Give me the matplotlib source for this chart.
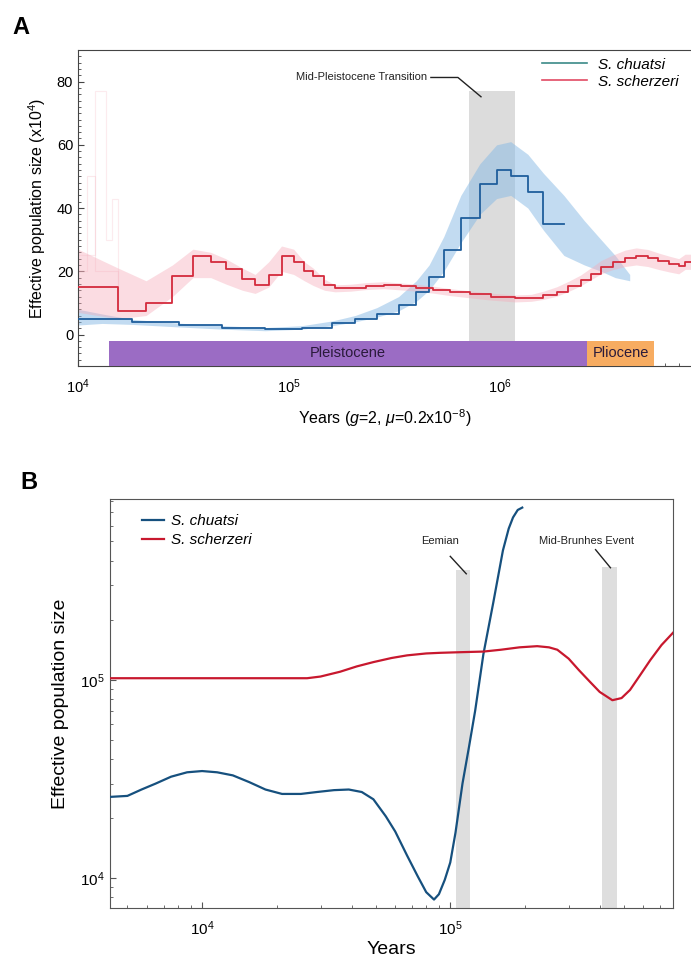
import matplotlib
matplotlib.use("Agg")
import matplotlib.pyplot as plt
import numpy as np
from matplotlib.lines import Line2D
from matplotlib.ticker import LogLocator, MultipleLocator, NullFormatter

plt.rcParams['font.family'] = ['Liberation Sans', 'DejaVu Sans']
plt.rcParams['mathtext.fontset'] = 'custom'
plt.rcParams['mathtext.rm'] = 'Liberation Sans'
plt.rcParams['mathtext.it'] = 'Liberation Sans:italic'

# ---- panel A: PSMC (years, Ne x10^4) ----
chu_t = [1e4, 1.8e4, 3e4, 4.8e4, 7.7e4, 1.15e5, 1.6e5, 2.05e5, 2.6e5, 3.3e5,
         4e5, 4.6e5, 5.4e5, 6.5e5, 8e5, 9.6e5, 1.12e6, 1.35e6, 1.6e6, 2.0e6]
chu_ne = [4.8, 3.9, 2.9, 2.2, 1.6, 2.2, 3.5, 4.8, 6.6, 9.2,
          13.4, 18.2, 26.7, 37, 47.6, 52, 50, 45, 35, 35]

chu_band_t = [1e4, 1.3e4, 1.8e4, 3e4, 4.8e4, 7.7e4, 1.15e5, 1.6e5, 2.05e5, 2.6e5, 3.3e5,
              4e5, 4.6e5, 5.4e5, 6.5e5, 8e5, 9.6e5, 1.12e6, 1.35e6, 1.6e6, 2.0e6,
              2.5e6, 3.0e6, 3.5e6, 4.1e6]
chu_band_lo = [3, 3.5, 3.2, 2.4, 1.7, 1.2, 1.7, 2.8, 4.0, 5.5, 7.5,
               10.5, 14, 20, 29, 38, 43, 44, 40, 33, 25, 22, 20, 18, 17]
chu_band_hi = [8, 6.5, 4.8, 3.6, 2.8, 2.2, 2.8, 4.3, 6.0, 8.5, 12,
               17, 22, 31, 44, 54, 60, 61, 57, 51, 44, 36, 30, 25, 19]

sch_t = [1e4, 1.55e4, 2.1e4, 2.8e4, 3.5e4, 4.25e4, 5.0e4, 6.0e4, 6.9e4, 8.0e4,
         9.2e4, 1.05e5, 1.18e5, 1.3e5, 1.47e5, 1.65e5, 1.95e5, 2.3e5, 2.8e5, 3.4e5,
         4.0e5, 4.8e5, 5.8e5, 7.2e5, 9e5, 1.17e6, 1.4e6, 1.6e6, 1.85e6, 2.1e6,
         2.4e6, 2.7e6, 3.0e6, 3.4e6, 3.9e6, 4.4e6, 5.0e6, 5.6e6, 6.3e6, 7.0e6,
         7.5e6, 8e6]
sch_ne = [15, 7.4, 10.1, 18.4, 24.7, 22.9, 20.6, 17.5, 15.6, 18.7,
          24.7, 22.9, 20.0, 18.4, 15.8, 14.6, 14.8, 15.3, 15.6, 15.2,
          14.8, 14.2, 13.4, 12.7, 12.0, 11.4, 11.6, 12.4, 13.6, 15.2,
          17.1, 19.3, 21.3, 22.8, 24.1, 24.7, 24.2, 23.2, 22.3, 21.6,
          23.0, 23.0]
sch_band_lo = [7, 5, 6, 12, 18, 18, 16, 14, 13, 15,
               20, 19, 17, 15.5, 14, 13.5, 13.7, 14.2, 14.5, 14.1,
               13.7, 13.1, 12.3, 11.6, 10.9, 10.3, 10.5, 11.1, 12.1, 13.6,
               15.4, 17.4, 19.2, 20.5, 21.5, 22.0, 21.5, 20.6, 19.8, 19.2,
               20.6, 20.6]
sch_band_hi = [27, 21, 17, 22, 27, 26, 24, 21, 19, 23,
               28, 27, 23, 21, 17.5, 15.7, 15.9, 16.4, 16.7, 16.3,
               15.9, 15.3, 14.5, 13.8, 13.1, 12.5, 12.7, 13.7, 15.1, 16.8,
               18.8, 21.2, 23.4, 25.1, 26.7, 27.4, 26.9, 25.8, 24.8, 24.0,
               25.4, 25.4]
# a few outlying bootstrap runs at the recent end
sch_spike1_t = [1e4, 1.1e4, 1.2e4, 1.55e4]
sch_spike1 = [20, 50, 20, 8]
sch_spike2_t = [1e4, 1.2e4, 1.35e4, 1.45e4, 1.55e4]
sch_spike2 = [25, 77, 30, 43, 10]

epochs = ['Pleistocene', 'Pliocene']
epoch_start = [1.4e4, 2.58e6]
epoch_end = [2.58e6, 5.33e6]
epoch_colors = ['#9b6cc4', '#f7ac61']

# ---- panel B: SMC++ (years, Ne) ----
chu_b_t = [4.25e3, 5e3, 5.7e3, 6.5e3, 7.5e3, 8.7e3, 1.0e4, 1.15e4, 1.33e4, 1.55e4,
           1.8e4, 2.1e4, 2.5e4, 2.9e4, 3.4e4, 3.9e4, 4.4e4, 4.9e4, 5.5e4, 6.0e4,
           6.7e4, 7.4e4, 8.0e4, 8.6e4, 9.0e4, 9.5e4, 1.0e5, 1.05e5, 1.12e5, 1.19e5,
           1.26e5, 1.36e5, 1.49e5, 1.63e5, 1.72e5, 1.79e5, 1.87e5, 1.95e5]
chu_b_ne = [2.57e4, 2.6e4, 2.8e4, 3.0e4, 3.25e4, 3.42e4, 3.47e4, 3.42e4, 3.3e4, 3.05e4,
            2.8e4, 2.66e4, 2.66e4, 2.72e4, 2.78e4, 2.8e4, 2.72e4, 2.5e4, 2.05e4, 1.72e4,
            1.3e4, 1.02e4, 8.5e3, 7.8e3, 8.3e3, 9.8e3, 1.2e4, 1.7e4, 3.0e4, 4.6e4,
            7.0e4, 1.35e5, 2.45e5, 4.5e5, 5.8e5, 6.6e5, 7.2e5, 7.4e5]
sch_b_t = [4.25e3, 2.65e4, 3.0e4, 3.6e4, 4.2e4, 4.9e4, 5.8e4, 6.7e4, 8e4, 9.1e4,
           1.1e5, 1.36e5, 1.6e5, 1.9e5, 2.24e5, 2.5e5, 2.7e5, 3.0e5, 3.3e5, 3.65e5,
           4e5, 4.5e5, 4.9e5, 5.3e5, 5.8e5, 6.4e5, 7.1e5, 7.9e5]
sch_b_ne = [1.02e5, 1.02e5, 1.04e5, 1.1e5, 1.17e5, 1.23e5, 1.29e5, 1.33e5, 1.36e5, 1.37e5,
            1.38e5, 1.39e5, 1.42e5, 1.46e5, 1.48e5, 1.46e5, 1.42e5, 1.28e5, 1.12e5, 9.8e4,
            8.7e4, 7.9e4, 8.1e4, 8.9e4, 1.05e5, 1.26e5, 1.5e5, 1.73e5]

blue = '#1f5e9c'
red = '#d42a3c'

fig = plt.figure(figsize=(6.91, 9.61), dpi=100)

# ================= A =================
ax = fig.add_axes([0.1129, 0.619, 0.8871, 0.329])
ax.set_xscale('log')
ax.set_xlim(1e4, 8e6)
ax.set_ylim(-10, 90)

ax.fill_between([7.1e5, 1.18e6], -2, 77, color='#d4d4d4', alpha=0.8, lw=0, zorder=1)
ax.fill_between(chu_band_t, chu_band_lo, chu_band_hi,
                color='#86b9e4', alpha=0.5, lw=0, zorder=2)
ax.fill_between(sch_t, sch_band_lo, sch_band_hi,
                color='#f6a9b7', alpha=0.4, lw=0, zorder=2)
ax.step(sch_spike1_t, sch_spike1, where='post', color='#f5b3bf', lw=0.8, alpha=0.3, zorder=2)
ax.step(sch_spike2_t, sch_spike2, where='post', color='#f5b3bf', lw=0.8, alpha=0.25, zorder=2)
ax.step(chu_t, chu_ne, where='post', color=blue, lw=1.3, zorder=4)
ax.step(sch_t, sch_ne, where='post', color=red, lw=1.3, zorder=4)

for name, s, e, c in zip(epochs, epoch_start, epoch_end, epoch_colors):
    ax.fill_between([s, e], -10, -2, color=c, lw=0, zorder=3)
    ax.text(np.sqrt(s * e), -6, name, ha='center', va='center', fontsize=10.5,
            color='#2a1a3a', zorder=5)

ax.text(4.5e5, 81.3, 'Mid-Pleistocene Transition', ha='right', va='center',
        fontsize=8, color='#222222')
ax.plot([4.69e5, 6.3e5, 8.1e5], [81.3, 81.3, 75.2], color='#222222', lw=1)

handles = [Line2D([], [], color='#3b8a88', lw=1.2), Line2D([], [], color='#e14a64', lw=1.2)]
ax.legend(handles, ['S. chuatsi', 'S. scherzeri'], loc='upper right', frameon=False,
          prop={'style': 'italic', 'size': 11}, handlelength=3.0, labelspacing=0.2,
          handletextpad=0.7, borderaxespad=0.2, bbox_to_anchor=(0.995, 1.005))

ax.set_yticks([0, 20, 40, 60, 80])
ax.yaxis.set_minor_locator(MultipleLocator(2))
ax.xaxis.set_major_locator(LogLocator(base=10, numticks=10))
ax.xaxis.set_minor_locator(LogLocator(base=10, subs=np.arange(2, 10), numticks=20))
ax.xaxis.set_minor_formatter(NullFormatter())
ax.tick_params(which='both', direction='in', labelsize=10.5, color='#444444')
ax.tick_params(which='major', length=4)
ax.tick_params(which='minor', length=2)
ax.tick_params(axis='x', pad=8)
ax.spines['right'].set_visible(False)
for sp in ['top', 'left', 'bottom']:
    ax.spines[sp].set_color('#444444')
ax.set_ylabel('Effective population size (x10$^{4}$)', fontsize=11.5, labelpad=6)
ax.set_xlabel(r'Years ($g$=2, $\mu$=0.2x10$^{-8}$)', fontsize=11.5, labelpad=8)

fig.text(0.018, 0.971, 'A', fontsize=17, fontweight='bold', va='center')

# ================= B =================
bx = fig.add_axes([0.159, 0.055, 0.815, 0.426])
bx.set_xscale('log')
bx.set_yscale('log')
bx.set_xlim(4.25e3, 7.9e5)
bx.set_ylim(7.06e3, 8.2e5)

bx.fill_between([1.05e5, 1.2e5], 7.06e3, 3.6e5, color='#d9d9d9', alpha=0.85, lw=0, zorder=1)
bx.fill_between([4.1e5, 4.7e5], 7.06e3, 3.7e5, color='#d9d9d9', alpha=0.85, lw=0, zorder=1)
bx.plot(chu_b_t, chu_b_ne, color='#16507e', lw=1.6, zorder=3)
bx.plot(sch_b_t, sch_b_ne, color='#c8182e', lw=1.6, zorder=3)

bx.text(9.1e4, 5.0e5, 'Eemian', ha='center', va='center', fontsize=8, color='#222222')
bx.plot([1.0e5, 1.16e5], [4.2e5, 3.43e5], color='#222222', lw=1)
bx.text(3.53e5, 5.0e5, 'Mid-Brunhes Event', ha='center', va='center', fontsize=8,
        color='#222222')
bx.plot([3.85e5, 4.42e5], [4.54e5, 3.68e5], color='#222222', lw=1)

handles_b = [Line2D([], [], color='#16507e', lw=1.6), Line2D([], [], color='#c8182e', lw=1.6)]
bx.legend(handles_b, ['S. chuatsi', 'S. scherzeri'], loc='upper left', frameon=False,
          prop={'style': 'italic', 'size': 11}, handlelength=1.5, labelspacing=0.35,
          handletextpad=0.4, borderaxespad=0.2, bbox_to_anchor=(0.04, 0.985))

bx.xaxis.set_major_locator(LogLocator(base=10, numticks=10))
bx.xaxis.set_minor_locator(LogLocator(base=10, subs=np.arange(2, 10), numticks=20))
bx.xaxis.set_minor_formatter(NullFormatter())
bx.yaxis.set_major_locator(LogLocator(base=10, numticks=10))
bx.yaxis.set_minor_locator(LogLocator(base=10, subs=np.arange(2, 10), numticks=20))
bx.yaxis.set_minor_formatter(NullFormatter())
bx.tick_params(which='both', direction='in', labelsize=11, color='#555555')
bx.tick_params(which='major', length=4)
bx.tick_params(which='minor', length=2)
bx.tick_params(axis='x', pad=8)
for sp in bx.spines.values():
    sp.set_color('#555555')
bx.set_ylabel('Effective population size', fontsize=14, labelpad=8)
bx.set_xlabel('Years', fontsize=14, labelpad=2)

fig.text(0.03, 0.498, 'B', fontsize=17, fontweight='bold', va='center')

fig.savefig('out.png', dpi=100)
